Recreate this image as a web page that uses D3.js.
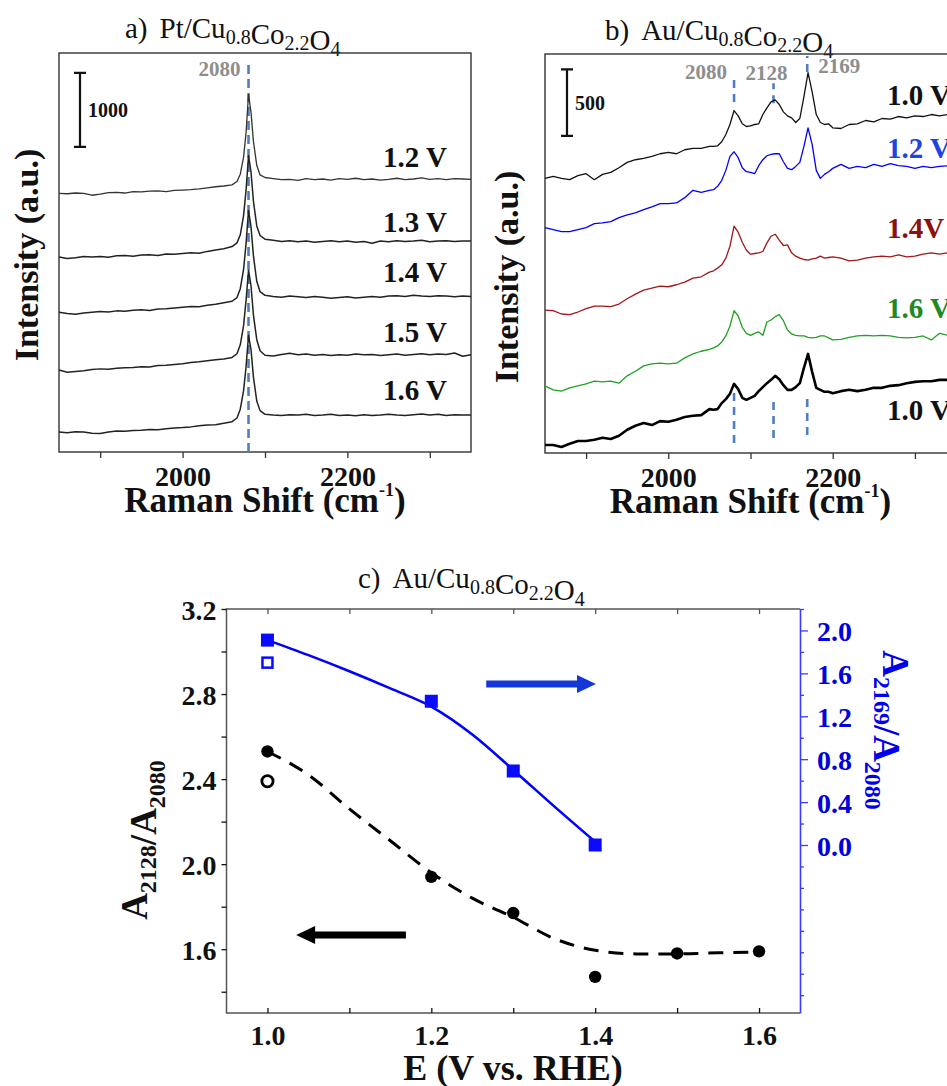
<!DOCTYPE html>
<html lang="en">
<head>
  <meta charset="UTF-8">
  <title>Raman spectra and peak area ratios</title>
  <script src="https://d3js.org/d3.v7.min.js"></script>
  <style>
    body { margin: 0; background: #fff; }
  </style>
</head>
<body>
  <svg width="947" height="1086"></svg>
  <script>
    // ---------- panel a: Pt/Cu0.8Co2.2O4 (counts above each trace's own offset)
    const shiftA = [1850,1860,1870,1880,1890,1900,1910,1920,1930,1940,1950,1960,1970,1980,1990,2000,2010,2020,2030,2040,2050,2060,
      2066,2070,2074,2077,2080,2083,2086,2090,2094,2100,2110,
      2120,2130,2140,2150,2160,2170,2180,2190,2200,2210,2220,2230,2240,2250,2260,2270,2280,2290,2300,2310,2320,2330,2340,2350];
    const labelsA = ["1.2 V", "1.3 V", "1.4 V", "1.5 V", "1.6 V"];
    const offsetsA = [3500, 2640, 1890, 1110, 270];
    const a12 = [0,-5,5,0,-25,-10,10,15,5,25,20,30,35,25,40,45,50,60,75,90,100,115,
      160,260,490,820,1340,1100,700,380,250,215,200,
      185,190,175,200,185,195,180,200,190,205,185,195,180,190,205,185,195,210,190,200,185,200,195,190];
    const a13 = [0,-20,-10,5,0,5,-5,15,20,10,25,30,20,40,35,45,55,50,75,95,110,140,
      190,300,560,900,1370,1150,750,420,290,240,225,
      210,220,205,215,200,210,220,205,215,200,210,185,215,205,220,210,215,225,205,215,220,210,215,215];
    const a14 = [0,-15,-25,-10,0,10,5,20,15,30,35,25,45,50,60,70,80,75,95,110,130,150,
      200,320,580,930,1380,1160,760,420,280,230,215,
      205,220,210,200,215,205,190,200,210,195,205,215,205,220,225,215,230,220,215,225,220,210,220,215];
    const a15 = [0,-30,-20,-10,5,15,10,25,30,35,45,40,60,65,75,85,100,110,125,140,150,170,
      220,340,600,940,1350,1140,740,410,260,200,190,
      210,225,205,215,200,210,195,205,200,215,205,210,195,205,215,200,210,220,205,215,210,230,185,205];
    const a16 = [0,-10,5,0,-15,-20,0,15,10,20,25,35,30,45,55,60,70,85,95,100,120,140,
      190,310,560,880,1310,1120,740,420,290,240,230,
      225,235,230,240,225,230,240,225,230,220,235,225,230,240,230,225,235,245,230,240,225,235,230,230];

    // ---------- panel b: Au/Cu0.8Co2.2O4 (stacked counts)
    const shiftB = [1850,1860,1870,1880,1890,1900,1910,1920,1930,1940,1950,1960,1970,1980,1990,2000,2010,2020,2030,2040,2050,
      2055,2060,2065,2070,2075,2080,2085,2090,2095,2100,2105,2110,2115,2120,2125,2130,2135,2140,2145,2150,2155,2160,2165,2170,2175,2180,2185,2190,2195,2200,
      2210,2220,2230,2240,2250,2260,2270,2280,2290,2300,2310,2320,2330,2340,2350];
    const labelsB = ["1.0 V", "1.2 V", "1.4V", "1.6 V", "1.0 V"];
    const b10 = [2065,2080,2065,2055,2085,2100,2055,2095,2110,2145,2185,2205,2215,2230,2250,2260,2250,2280,2290,2290,2305,
      2305,2310,2340,2395,2470,2575,2535,2475,2455,2460,2470,2475,2545,2595,2640,2655,2620,2565,2535,2520,2485,2515,2680,2860,2715,2545,2485,2470,2475,2445,
      2440,2470,2475,2500,2490,2515,2510,2530,2520,2535,2530,2545,2535,2545,2550];
    const b12 = [1695,1680,1665,1665,1680,1695,1725,1730,1740,1770,1790,1805,1830,1850,1875,1875,1880,1920,1975,1960,1975,
      1980,2005,2050,2125,2230,2265,2220,2145,2115,2110,2100,2160,2205,2235,2245,2250,2250,2190,2140,2130,2155,2185,2305,2445,2320,2125,2065,2095,2115,2140,
      2170,2140,2155,2145,2170,2155,2175,2160,2155,2140,2155,2145,2155,2160,2160];
    const b14 = [1075,1070,1045,1040,1060,1085,1105,1105,1100,1120,1160,1195,1225,1240,1255,1250,1265,1285,1315,1325,1360,
      1370,1390,1415,1465,1555,1705,1660,1585,1525,1495,1500,1505,1515,1580,1630,1645,1600,1560,1565,1505,1480,1465,1455,1450,1460,1465,1480,1465,1470,1475,
      1465,1445,1450,1465,1475,1480,1475,1490,1475,1480,1495,1505,1495,1505,1505];
    const b16 = [505,475,465,490,505,520,540,535,540,525,580,615,655,670,675,670,675,715,745,765,780,
      790,805,835,880,955,1070,1030,945,900,885,900,910,885,985,1000,1025,1040,995,925,895,885,880,880,870,865,870,880,880,865,850,
      855,870,880,885,880,885,880,870,865,870,880,850,900,885,895];
    const b10after = [60,60,45,70,90,90,100,115,105,130,175,205,225,210,240,235,250,270,280,285,330,
      325,330,375,405,445,520,480,415,400,415,430,465,495,525,550,580,555,510,475,475,495,525,640,745,610,490,475,460,460,450,
      465,475,465,475,490,490,505,510,525,535,540,540,550,550,555];
    const peaksB = [2080, 2128, 2169];

    // ---------- panel c: area ratios vs potential
    const potential = [1.0, 1.2, 1.3, 1.4, 1.5, 1.6];
    const ratio2128 = [2.53, 1.94, 1.77, 1.47, 1.58, 1.59];
    const potential2169 = [1.0, 1.2, 1.3, 1.4];
    const ratio2169 = [1.91, 1.34, 0.69, 0.0];
    const open2128 = [[1.0, 2.39]];
    const open2169 = [[1.0, 1.70]];
    const fitE2128 = [1.0, 1.05, 1.1, 1.15, 1.2, 1.25, 1.3, 1.35, 1.4, 1.45, 1.5, 1.55, 1.6];
    const fit2128 = [2.53, 2.42, 2.26, 2.11, 1.96, 1.84, 1.75, 1.65, 1.595, 1.578, 1.578, 1.583, 1.587];
    const fitE2169 = [1.0, 1.05, 1.1, 1.15, 1.2, 1.25, 1.3, 1.35, 1.4];
    const fit2169 = [1.91, 1.77, 1.62, 1.46, 1.29, 1.03, 0.70, 0.36, 0.03];
    const eTicks = [1.0, 1.1, 1.2, 1.3, 1.4, 1.5, 1.6];
    const leftTicks = [1.4, 1.6, 1.8, 2.0, 2.2, 2.4, 2.6, 2.8, 3.0, 3.2];
    const rightTicks = [-1.4, -1.2, -1.0, -0.8, -0.6, -0.4, -0.2, 0.0, 0.2, 0.4, 0.6, 0.8, 1.0, 1.2, 1.4, 1.6, 1.8, 2.0, 2.2];

    const serif = '"Liberation Serif", serif';
    const svg = d3.select("svg");
    const f1 = d3.format(".1f");

    function bold(sel, size, color) {
      return sel.attr("font-family", serif).attr("font-size", size)
          .attr("font-weight", "bold").attr("fill", color);
    }

    // text made of plain and subscript pieces
    function formula(sel, parts, subSize, subDy) {
      parts.forEach(p => {
        if (p.sub) {
          sel.append("tspan").attr("font-size", subSize).attr("dy", subDy).text(p.t);
          sel.append("tspan").attr("dy", -subDy).text("");
        } else {
          sel.append("tspan").attr("dx", p.dx || 0).text(p.t);
        }
      });
      return sel;
    }

    function panelTitle(x, y, letter, metal) {
      const t = svg.append("text")
          .attr("x", x).attr("y", y)
          .attr("font-family", serif).attr("font-size", 29).attr("fill", "#111");
      formula(t, [
        {t: letter}, {t: metal + "/Cu", dx: 12}, {t: "0.8", sub: true}, {t: "Co"},
        {t: "2.2", sub: true}, {t: "O"}, {t: "4", sub: true}
      ], 20, 6);
    }

    function spectraPanel(o) {
      const x = d3.scaleLinear([1850, 2350], [o.left, o.right]);
      const y = d3.scaleLinear(o.yDomain, [o.bottom, o.top]);
      const g = svg.append("g");

      g.append("rect")
          .attr("x", o.left).attr("y", o.top)
          .attr("width", o.right - o.left).attr("height", o.bottom - o.top)
          .attr("fill", "none").attr("stroke", "#333").attr("stroke-width", 1.4);

      const ax = g.append("g")
          .attr("transform", `translate(0,${o.bottom})`)
          .call(d3.axisBottom(x).tickValues([1900, 2000, 2100, 2200, 2300])
            .tickSize(6).tickPadding(8).tickFormat(d => d % 200 === 0 ? d : ""));
      ax.select(".domain").remove();
      ax.selectAll("line").attr("stroke", "#333").attr("stroke-width", 1.3);
      bold(ax.selectAll("text"), 28, "#111");

      const xt = bold(g.append("text"), 35, "#111")
          .attr("x", x(2100)).attr("y", o.bottom + 60)
          .attr("text-anchor", "middle")
          .text("Raman Shift (cm");
      xt.append("tspan").attr("font-size", 18).attr("dy", -16).text("-1");
      xt.append("tspan").attr("dy", 16).text(")");

      bold(g.append("text"), 34, "#111")
          .attr("transform", `translate(${o.yLabelX},${o.yLabelY}) rotate(-90)`)
          .attr("text-anchor", "middle")
          .text("Intensity (a.u.)");

      // dashed peak markers
      o.marks.forEach(m => {
        m.spans.forEach(s => {
          g.append("line")
              .attr("x1", x(m.at)).attr("x2", x(m.at))
              .attr("y1", y(s[0])).attr("y2", y(s[1]))
              .attr("stroke", "#4f7fc0").attr("stroke-width", 2.6)
              .attr("stroke-dasharray", o.dash);
        });
        bold(g.append("text"), 21, "#8e8e8e")
            .attr("x", x(m.at) + m.dx).attr("y", m.ty)
            .attr("text-anchor", m.anchor)
            .text(m.at);
      });

      // intensity scale bar
      const sb = o.bar;
      const bx = o.left + sb.dx;
      g.append("path")
          .attr("d", `M${bx - 6},${y(sb.from)}H${bx + 6}M${bx},${y(sb.from)}V${y(sb.from + sb.size)}M${bx - 6},${y(sb.from + sb.size)}H${bx + 6}`)
          .attr("stroke", "#111").attr("stroke-width", 2.2).attr("fill", "none");
      bold(g.append("text"), 20, "#111")
          .attr("x", bx + 8).attr("y", y(sb.from + sb.size / 2) + 7)
          .text(sb.size);

      const line = d3.line().x((d, i) => x(o.shift[i])).y(d => y(d));
      o.traces.forEach((tr, k) => {
        g.append("path")
            .datum(tr)
            .attr("d", line)
            .attr("fill", "none")
            .attr("stroke", o.colors[k])
            .attr("stroke-width", o.widths[k])
            .attr("stroke-linejoin", "round");
        bold(g.append("text"), 29, o.labelColors[k])
            .attr("x", o.labelX).attr("y", o.labelY[k])
            .text(o.labels[k]);
      });
    }

    // panel a
    panelTitle(125, 38, "a)", "Pt");
    spectraPanel({
      left: 59, right: 471, top: 53, bottom: 452, yDomain: [0, 5400],
      shift: shiftA,
      traces: [a12, a13, a14, a15, a16].map((tr, k) => tr.map(v => v + offsetsA[k])),
      colors: ["#333", "#222", "#222", "#222", "#222"],
      widths: [1.3, 1.5, 1.5, 1.5, 1.5],
      labels: labelsA, labelColors: ["#111", "#111", "#111", "#111", "#111"],
      labelX: 383, labelY: [167, 232, 282, 342, 400],
      yLabelX: 38, yLabelY: 255,
      dash: "9,5",
      marks: [{at: 2080, spans: [[0, 5260]], dx: -8, anchor: "end", ty: 76}],
      bar: {dx: 21, from: 4130, size: 1000}
    });

    // panel b
    panelTitle(605, 40, "b)", "Au");
    spectraPanel({
      left: 545, right: 956, top: 54, bottom: 453, yDomain: [0, 3000],
      shift: shiftB,
      traces: [b10, b12, b14, b16, b10after],
      colors: ["#111", "#0000ff", "#a01818", "#22a022", "#000"],
      widths: [1.3, 1.3, 1.3, 1.3, 2.6],
      labels: labelsB, labelColors: ["#111", "#1f45e0", "#8b1010", "#1f8a1f", "#111"],
      labelX: 887, labelY: [105, 158, 238, 318, 420],
      yLabelX: 518, yLabelY: 277,
      dash: "8,6",
      marks: [
        {at: peaksB[0], spans: [[2640, 2830], [75, 490]], dx: -7, anchor: "end", ty: 79},
        {at: peaksB[1], spans: [[2630, 2780], [113, 414]], dx: -7, anchor: "middle", ty: 80},
        {at: peaksB[2], spans: [[2865, 2985], [135, 436]], dx: 11, anchor: "start", ty: 73}
      ],
      bar: {dx: 22, from: 2385, size: 500}
    });

    // ---------- panel c
    panelTitle(358, 588, "c)", "Au");
    const xC = d3.scaleLinear([0.95, 1.65], [226.5, 800]);
    const yL = d3.scaleLinear([1.3, 3.2], [1013, 609]);
    const yR = d3.scaleLinear([-1.566, 2.2], [1013, 609]);
    const gc = svg.append("g");
    const [cl, cr] = xC.range();
    const [cb, ct] = yL.range();

    gc.append("path")
        .attr("d", `M${cr},${ct}H${cl}V${cb}H${cr}`)
        .attr("fill", "none").attr("stroke", "#555").attr("stroke-width", 1.5);

    function styleAxis(a, color) {
      a.selectAll("line").attr("stroke", color).attr("stroke-width", 1.3);
      bold(a.selectAll("text"), 28, color);
    }

    const axB = gc.append("g").attr("transform", `translate(0,${cb})`)
        .call(d3.axisBottom(xC).tickValues(eTicks).tickSize(-5).tickPadding(12)
          .tickFormat(d => Math.round(d * 10) % 2 === 0 ? f1(d) : ""));
    axB.select(".domain").remove();
    styleAxis(axB, "#111");

    const axT = gc.append("g").attr("transform", `translate(0,${ct})`)
        .call(d3.axisTop(xC).tickValues(eTicks).tickSize(-5).tickFormat(""));
    axT.select(".domain").remove();
    styleAxis(axT, "#555");

    const axL = gc.append("g").attr("transform", `translate(${cl},0)`)
        .call(d3.axisLeft(yL).tickValues(leftTicks).tickSize(5).tickPadding(5)
          .tickFormat(d => Math.round(d * 10) % 4 === 0 ? f1(d) : ""));
    axL.select(".domain").remove();
    styleAxis(axL, "#111");
    axL.selectAll("text").attr("dy", "0.36em");

    const isMajorR = d => d >= 0 && d <= 2.0 && Math.round(d * 10) % 4 === 0;
    const axR = gc.append("g").attr("transform", `translate(${cr},0)`)
        .call(d3.axisRight(yR).tickValues(rightTicks).tickSize(4).tickSizeOuter(0).tickPadding(13)
          .tickFormat(d => isMajorR(d) ? f1(Math.abs(d)) : ""));
    axR.select(".domain").attr("stroke", "#3a3aff").attr("stroke-width", 1.6);
    styleAxis(axR, "#0000dd");
    axR.selectAll("line").attr("stroke", "#3a3aff").attr("x2", d => isMajorR(d) ? 8 : 4);
    axR.selectAll("text").attr("dy", "0.36em");

    // axis titles
    bold(gc.append("text"), 36, "#111")
        .attr("x", 513).attr("y", 1080).attr("text-anchor", "middle")
        .text("E (V vs. RHE)");

    const ylab = bold(gc.append("text"), 37, "#111")
        .attr("transform", "translate(147,840) rotate(-90)")
        .attr("text-anchor", "middle");
    formula(ylab, [{t: "A"}, {t: "2128", sub: true}, {t: "/A"}, {t: "2080", sub: true}], 24, 9);

    const yrlab = bold(gc.append("text"), 37, "#0000ee")
        .attr("transform", "translate(883,730) rotate(90)")
        .attr("text-anchor", "middle");
    formula(yrlab, [{t: "A"}, {t: "2169", sub: true}, {t: "/A"}, {t: "2080", sub: true}], 24, 9);

    // fits
    gc.append("path")
        .datum(fitE2128.map((e, i) => [e, fit2128[i]]))
        .attr("d", d3.line().x(d => xC(d[0])).y(d => yL(d[1])).curve(d3.curveMonotoneX))
        .attr("fill", "none").attr("stroke", "#000").attr("stroke-width", 3)
        .attr("stroke-dasharray", "15,10");
    gc.append("path")
        .datum(fitE2169.map((e, i) => [e, fit2169[i]]))
        .attr("d", d3.line().x(d => xC(d[0])).y(d => yR(d[1])).curve(d3.curveMonotoneX))
        .attr("fill", "none").attr("stroke", "#0000ff").attr("stroke-width", 2.6);

    // markers
    gc.selectAll("circle.filled")
      .data(potential.map((e, i) => [e, ratio2128[i]]))
      .join("circle")
        .attr("class", "filled")
        .attr("cx", d => xC(d[0])).attr("cy", d => yL(d[1])).attr("r", 6.2)
        .attr("fill", "#000");
    gc.selectAll("circle.open")
      .data(open2128)
      .join("circle")
        .attr("class", "open")
        .attr("cx", d => xC(d[0])).attr("cy", d => yL(d[1])).attr("r", 5.6)
        .attr("fill", "#fff").attr("stroke", "#000").attr("stroke-width", 2.8);
    gc.selectAll("rect.filled")
      .data(potential2169.map((e, i) => [e, ratio2169[i]]))
      .join("rect")
        .attr("class", "filled")
        .attr("x", d => xC(d[0]) - 6.5).attr("y", d => yR(d[1]) - 6.5)
        .attr("width", 13).attr("height", 13)
        .attr("fill", "#0a0aff");
    gc.selectAll("rect.open")
      .data(open2169)
      .join("rect")
        .attr("class", "open")
        .attr("x", d => xC(d[0]) - 5).attr("y", d => yR(d[1]) - 5)
        .attr("width", 10).attr("height", 10)
        .attr("fill", "#fff").attr("stroke", "#0a0aff").attr("stroke-width", 2.5);

    // arrows pointing to the axis each series belongs to
    function arrow(x0, x1, yy, color) {
      const dir = Math.sign(x1 - x0);
      const hx = x1 - dir * 19;
      gc.append("path")
          .attr("d", `M${x0},${yy - 3.5}H${hx}V${yy - 9}L${x1},${yy}L${hx},${yy + 9}V${yy + 3.5}H${x0}Z`)
          .attr("fill", color);
    }
    arrow(xC(1.267), xC(1.401), yR(1.5), "#1438d8");
    arrow(xC(1.169), xC(1.035), yL(1.667), "#000");
  </script>
</body>
</html>
